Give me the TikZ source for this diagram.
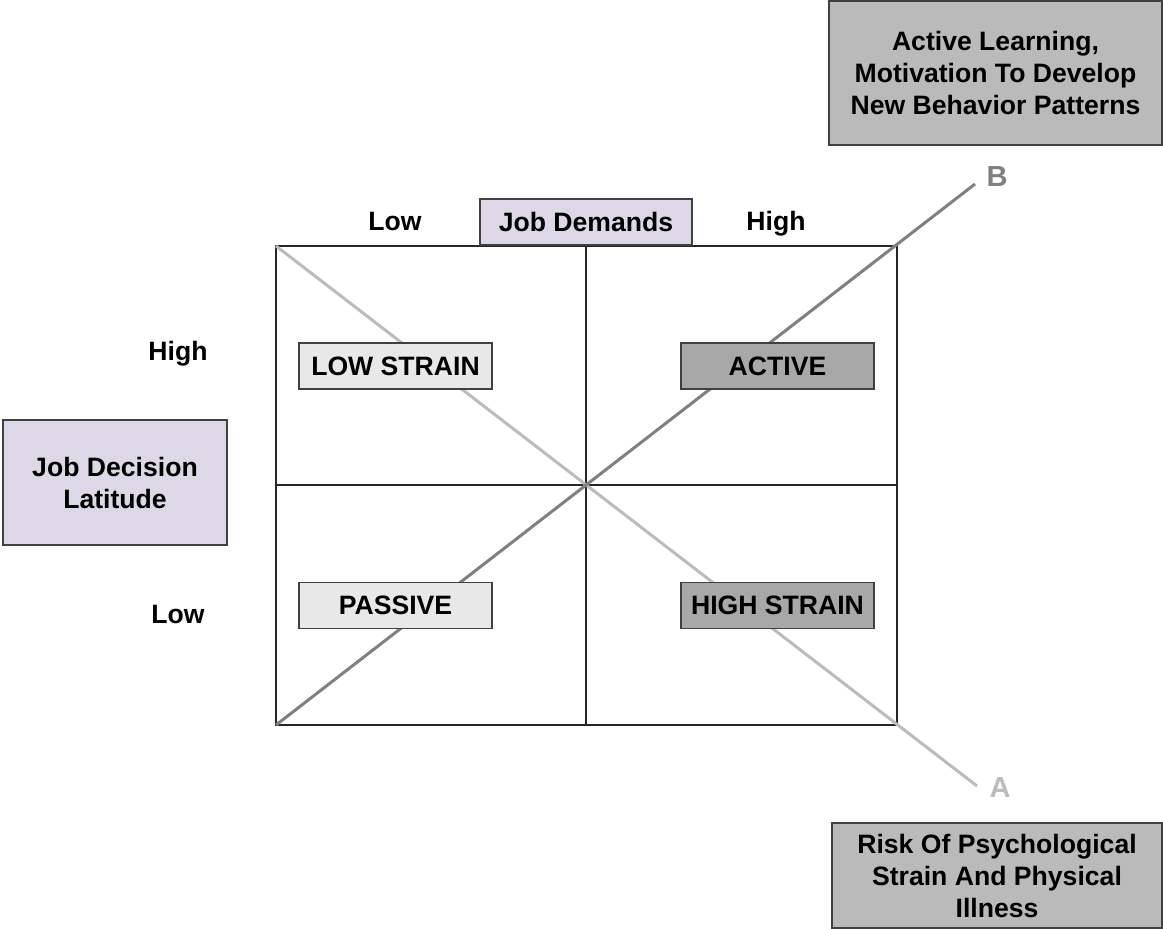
\documentclass[tikz,border=0pt]{standalone}
\usepackage{fontspec}
\setmainfont{Liberation Sans}
\usetikzlibrary{positioning}

\definecolor{lavender}{RGB}{221,216,230}
\definecolor{boxlight}{RGB}{232,232,232}
\definecolor{boxdark}{RGB}{168,168,168}
\definecolor{outgray}{RGB}{186,186,186}
\definecolor{lineA}{RGB}{188,188,188}
\definecolor{lineB}{RGB}{128,128,128}

\begin{document}
\begin{tikzpicture}[x=0.5pt, y=-0.5pt,
    every node/.style={font=\bfseries\fontsize{13.3}{16}\selectfont},
    axisbox/.style={draw=black!75, line width=0.75pt, fill=lavender, align=center, inner sep=0pt},
    quadbox/.style={draw=black!75, line width=0.75pt, fill=boxlight, minimum width=96.5pt, minimum height=23pt, inner sep=0pt},
    quaddark/.style={quadbox, fill=boxdark},
    outcome/.style={draw=black!75, line width=0.75pt, fill=outgray, align=center, inner sep=0pt},
    grid line/.style={draw=black!85, line width=1pt},
    level/.style={anchor=base, inner sep=0pt},
    tag/.style={font=\bfseries\fontsize{14.5}{16}\selectfont}
]
\useasboundingbox[fill=white] (0,0) rectangle (1163,929);

% Grid corners
\coordinate (nw) at (276,246);
\coordinate (ne) at (897,246);
\coordinate (sw) at (276,725);
\coordinate (se) at (897,725);
\coordinate (top) at (586,246);
\coordinate (bot) at (586,725);
\coordinate (left) at (276,485);
\coordinate (right) at (897,485);
\coordinate (endA) at (977,786);
\coordinate (endB) at (975,184);

% Grid
\draw[grid line] (nw) rectangle (se);
\draw[grid line] (top) -- (bot);
\draw[grid line] (left) -- (right);

% Diagonals
\draw[lineA, line width=1.5pt] (nw) -- (endA);
\draw[lineB, line width=1.5pt] (sw) -- (endB);
\node[tag, text=lineA] (tagA) at (1000,788) {A};
\node[tag, text=lineB] (tagB) at (997,177) {B};

% Axes
\node[axisbox, minimum width=106pt, minimum height=23pt, above=0pt of top] (demands) {Job Demands};
\node[level] (demlow) at (395,231) {Low};
\node[level] (demhigh) at (776,231) {High};
\node[axisbox, minimum width=112pt, minimum height=62.5pt] (latitude) at (115,482.5) {Job Decision\\Latitude};
\node[level] (lathigh) at (178,361) {High};
\node[level] (latlow) at (178,624) {Low};

% Quadrants
\node[quadbox] (lowstrain) at (395.5,366) {LOW STRAIN};
\node[quaddark] (active) at (777.5,366) {ACTIVE};
\node[quadbox] (passive) at (395.5,605.5) {PASSIVE};
\node[quaddark] (highstrain) at (777.5,605.5) {HIGH STRAIN};

% Outcomes
\node[outcome, minimum width=166.5pt, minimum height=72pt] (learning) at (995.5,73) {Active Learning,\\Motivation To Develop\\New Behavior Patterns};
\node[outcome, minimum width=165pt, minimum height=52.5pt] (risk) at (997,875.5) {Risk Of Psychological\\Strain And Physical\\Illness};

\end{tikzpicture}
\end{document}
